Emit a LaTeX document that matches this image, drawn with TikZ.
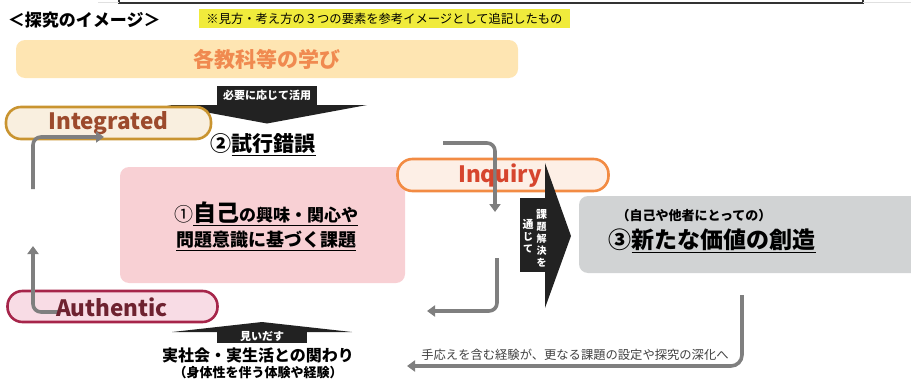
\documentclass[tikz,border=0pt]{standalone}
\usepackage{fontspec}
\setmainfont{Noto Sans CJK JP}
\usetikzlibrary{arrows.meta}
\definecolor{hlyellow}{HTML}{F0EB3C}
\definecolor{learnfill}{HTML}{FEE5B2}
\definecolor{learntext}{HTML}{F08A50}
\definecolor{intfill}{HTML}{F9EFDF}
\definecolor{intborder}{HTML}{C99430}
\definecolor{inttext}{HTML}{9C4A2C}
\definecolor{inqfill}{HTML}{FDEFE6}
\definecolor{inqborder}{HTML}{F28B43}
\definecolor{inqtext}{HTML}{D6452E}
\definecolor{autfill}{HTML}{F8DCE5}
\definecolor{autborder}{HTML}{A6254A}
\definecolor{auttext}{HTML}{6E2230}
\definecolor{pinkfill}{HTML}{F8D0D4}
\definecolor{grayfill}{HTML}{D1D3D4}
\definecolor{arrowgray}{HTML}{7F7F7F}
\definecolor{blk}{HTML}{222222}
\definecolor{notegray}{HTML}{404040}
\newcommand\fs[1]{\fontsize{#1}{#1}\selectfont}
\tikzset{
  pill/.style={draw=#1, line width=2.6pt, rounded corners=15pt, minimum height=32pt},
  garrow/.style={draw=arrowgray, line width=3.6pt, rounded corners=8pt, -{Triangle[width=11pt,length=8pt]}},
  wlabel/.style={text=white, font=\bfseries},
}
\begin{document}
\begin{tikzpicture}[x=1pt,y=-1pt, every node/.style={inner sep=0pt, outer sep=0pt}]
\useasboundingbox (0,0) rectangle (911,380);
% top frame
\draw[line width=1.2pt, draw=black!80] (119,-3) -- (119,3) -- (863,3) -- (863,-3);
\draw[line width=1pt, draw=black!12] (863,2) -- (911,2);
\draw[line width=1pt, draw=black!12] (98,2) -- (119,2);
% title & note
\node[anchor=west] (title) at (8,20) {\fs{17}\bfseries ＜探究のイメージ＞};
\node[fill=hlyellow, minimum width=371pt, minimum height=19pt] (note) at (384.5,18.5) {\fs{12.3}※見方・考え方の３つの要素を参考イメージとして追記したもの};
% learning box
\node[fill=learnfill, rounded corners=9pt, minimum width=502pt, minimum height=38pt] (learn) at (267,59) {\fs{21}\bfseries\color{learntext}各教科等の学び};
% down black arrow
\fill[blk] (167,105) -- (367,105) -- (267,123.5) -- cycle;
\node[fill=blk, minimum width=100pt, minimum height=20pt, wlabel] (use) at (267,95.5) {\fs{11}\bfseries 必要に応じて活用};
% trial
\node (trial) at (263,145) {\fs{21}\bfseries ②\underline{試行錯誤}};
% integrated pill
\node[pill=intborder, fill=intfill, minimum width=205pt] (integ) at (108.5,123) {\fs{22.5}\bfseries\color{inttext}Integrated};
\coordinate (lu1) at (33,189);
\coordinate (lu2) at (33,137);
\coordinate (lu3) at (104,137);
\draw[garrow] (lu1) -- (lu2) -- (lu3);
% pink box
\node[fill=pinkfill, rounded corners=9pt, minimum width=285pt, minimum height=116pt] (self) at (262.5,225) {};
\node (self1) at (266,214) {\fs{19}①\bfseries\underline{\fs{23}自己\fs{17}の興味・関心や}};
\node (self2) at (266,241) {\fs{18}\bfseries\underline{問題意識に基づく課題}};
% inquiry pill
\node[pill=inqborder, fill=inqfill, minimum width=211pt] (inq) at (503,175) {};
\coordinate (ia1) at (443,143);
\coordinate (ia2) at (495,143);
\coordinate (ia3) at (495,212);
\draw[garrow] (ia1) -- (ia2) -- (ia3);
\node (inqt) at (500,176) {\fs{22.5}\bfseries\color{inqtext}Inquiry};
\coordinate (ib1) at (497,258);
\coordinate (ib2) at (497,311);
\coordinate (ib3) at (427,311);
\draw[garrow] (ib1) -- (ib2) -- (ib3);
% right black arrow
\fill[blk] (545,163) -- (571,236) -- (545,308) -- cycle;
\node[fill=blk, minimum width=27pt, minimum height=74pt] (through) at (533,235) {};
\node[wlabel, align=center] (thr1) at (541.5,238.5) {\fontsize{11}{13.3}\selectfont\bfseries 課\\題\\解\\決\\を};
\node[wlabel, align=center] (thr2) at (528,236.5) {\fontsize{11}{13.5}\selectfont\bfseries 通\\じ\\て};
% gray box
\node[fill=grayfill, rounded corners=9pt, minimum width=350pt, minimum height=77pt, anchor=west] (value) at (579,234.5) {};
\node (value1) at (694,216) {\fs{13}\bfseries （自己や他者にとっての）};
\node (value2) at (712,241) {\fs{23}\bfseries ③\underline{新たな価値の創造}};
% big return arrow
\coordinate (ra1) at (742,295);
\coordinate (ra2) at (742,366);
\coordinate (ra3) at (407,366);
\draw[garrow, rounded corners=11pt] (ra1) -- (ra2) -- (ra3);
\node (ret) at (575,355) {\fs{12.3}\color{notegray}手応えを含む経験が、更なる課題の設定や探究の深化へ};
% authentic pill
\node[pill=autborder, fill=autfill, minimum width=210pt, minimum height=31pt] (auth) at (112.5,306.5) {};
\coordinate (la1) at (60,312);
\coordinate (la2) at (33,312);
\coordinate (la3) at (33,246);
\draw[garrow] (la1) -- (la2) -- (la3);
\node (autht) at (112,307) {\fs{22.5}\bfseries\color{auttext}Authentic};
% up black arrow
\fill[blk] (172,332) -- (262,322) -- (352,332) -- cycle;
\node[fill=blk, minimum width=90pt, minimum height=12pt, wlabel] (find) at (262,337) {\fs{11}\bfseries 見いだす};
\node (real1) at (258,355) {\fs{16}\bfseries 実社会・実生活との関わり};
\node (real2) at (258,373) {\fs{13}\bfseries （身体性を伴う体験や経験）};
\end{tikzpicture}
\end{document}
